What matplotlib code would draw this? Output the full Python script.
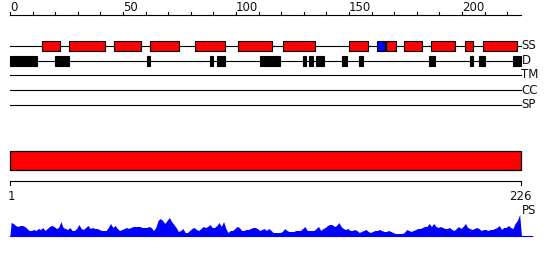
import matplotlib.pyplot as plt

seq_len = 226

# secondary structure (residue ranges)
helices = [(14, 22), (26, 42), (46, 58), (62, 75), (82, 95), (101, 116),
           (121, 135), (150, 158.5), (166.5, 171), (174.5, 182.5),
           (186.5, 197), (201.5, 205), (209.5, 224.5)]
strands = [(162.5, 166)]

# disorder ranges
disorder = [(0, 12), (20, 26), (60.5, 62), (88.5, 90), (91.5, 95),
            (110.5, 119.5), (129.5, 131), (132.5, 134), (135.5, 139),
            (147, 149), (154.5, 156), (185.5, 188), (203.5, 205),
            (207.5, 210), (222.5, 226)]

track_names = ["SS", "D", "TM", "CC", "SP"]

# PS profile, one value per residue
ps = [13, 12, 10, 9, 10, 10, 9, 7, 5, 5, 6, 5, 7, 6, 8, 5, 7, 9, 10, 9,
      7, 8, 14, 8, 7, 6, 8, 5, 5, 7, 11, 7, 6, 8, 10, 7, 8, 7, 7, 6,
      5, 5, 5, 8, 12, 8, 10, 7, 5, 6, 7, 8, 7, 8, 9, 9, 9, 9, 8, 8,
      8, 9, 8, 5, 8, 15, 17, 15, 12, 15, 18, 14, 11, 8, 4, 5, 7, 3, 3, 5,
      7, 8, 6, 5, 7, 9, 8, 9, 11, 8, 8, 10, 13, 9, 14, 7, 3, 5, 5, 7,
      9, 8, 5, 5, 6, 6, 7, 8, 8, 7, 5, 6, 7, 5, 7, 5, 3, 3, 3, 3,
      4, 7, 5, 4, 4, 4, 5, 5, 5, 7, 9, 5, 5, 5, 5, 7, 9, 5, 7, 8,
      10, 11, 11, 9, 10, 13, 9, 7, 6, 7, 5, 5, 6, 5, 3, 4, 5, 6, 4, 3,
      4, 5, 5, 6, 5, 4, 4, 5, 4, 3, 2, 2, 2, 2, 3, 6, 5, 4, 5, 6,
      7, 7, 8, 9, 9, 12, 9, 12, 9, 8, 9, 8, 7, 7, 8, 6, 5, 7, 9, 7,
      9, 12, 8, 7, 6, 7, 8, 7, 5, 6, 6, 5, 6, 6, 7, 8, 10, 6, 8, 8,
      10, 8, 7, 12, 15, 21]

px = 2.26  # pixels per residue
fig = plt.figure(figsize=(5.5, 2.6), dpi=100)
ax = fig.add_axes([0, 0, 1, 1])
ax.set_xlim(-10 / px, 540 / px)
ax.set_ylim(260, 0)
ax.axis("off")

font = dict(fontsize=8.5, color="#111111", family="DejaVu Sans")

# top ruler
ax.plot([0, seq_len], [15, 15], color="black", lw=0.8)
for t in range(0, seq_len, 10):
    ax.plot([t, t], [12, 15], color="black", lw=0.8)
    if t % 50 == 0:
        ax.text(t, 10.8, str(t), ha="left", va="baseline", **font)

# tracks
track_y = [45.5, 60.5, 75, 90, 105]
for name, y in zip(track_names, track_y):
    ax.plot([0, seq_len], [y, y], color="black", lw=0.8, zorder=1)
    ax.text(seq_len + 0.3, y, name, ha="left", va="center", **font)

for s, e in helices:
    ax.barh(track_y[0], e - s, left=s, height=10, color="#ff0000",
            edgecolor="black", linewidth=0.8, zorder=2)
for s, e in strands:
    ax.barh(track_y[0], e - s, left=s, height=10, color="#0000ff",
            edgecolor="black", linewidth=0.8, zorder=2)
for s, e in disorder:
    ax.barh(track_y[1], e - s, left=s, height=10, color="black",
            edgecolor="black", linewidth=0.8, zorder=2)

# domain bar
ax.barh(160.5, seq_len, left=0, height=19.5, color="#ff0000",
        edgecolor="black", linewidth=0.9)

# bottom ruler
ax.plot([0, seq_len], [180.5, 180.5], color="black", lw=0.8)
ax.plot([0, 0], [180.5, 185], color="black", lw=0.8)
ax.plot([seq_len, seq_len], [180.5, 185], color="black", lw=0.8)
ax.text(0.5, 196, "1", ha="center", va="center", **font)
ax.text(seq_len, 196, str(seq_len), ha="center", va="center", **font)

# PS profile
base = 235.5
xs = [0] + [i + 0.5 for i in range(seq_len)] + [seq_len + 0.3]
ys = [base] + [base - v for v in ps] + [base]
ax.fill_between(xs, ys, base, color="#0000ff", lw=0)
ax.plot([0, 522 / px], [base, base], color="#0000ff", lw=0.8)
ax.text(seq_len + 0.6, 210, "PS", ha="left", va="center", **font)

fig.savefig("out.png", dpi=100)
